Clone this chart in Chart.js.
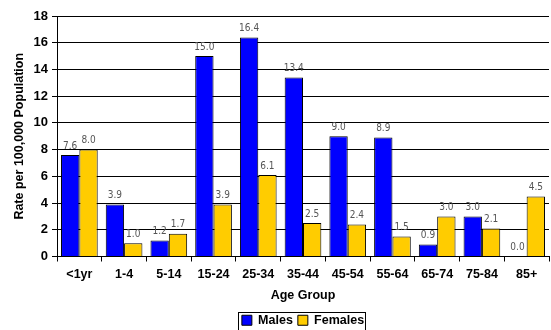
<!DOCTYPE html>
<html>
<head>
<meta charset="utf-8">
<script src="https://cdn.jsdelivr.net/npm/chart.js@4"></script>
<style>
    html, body { margin: 0; padding: 0; background: #ffffff; }
    #wrap { width: 551px; height: 330px; position: relative; }
</style>
</head>
<body>
<div id="wrap"><canvas id="rateChart"></canvas></div>
<script>
// Age groups and rates per 100,000
const ageGroups = ['<1yr', '1-4', '5-14', '15-24', '25-34', '35-44', '45-54', '55-64', '65-74', '75-84', '85+'];
const maleRates = [7.6, 3.9, 1.2, 15.0, 16.4, 13.4, 9.0, 8.9, 0.9, 3.0, 0.0];
const femaleRates = [8.0, 1.0, 1.7, 3.9, 6.1, 2.5, 2.4, 1.5, 3.0, 2.1, 4.5];
const yTicks = [0, 2, 4, 6, 8, 10, 12, 14, 16, 18];

const fontFamily = 'Arial, "Liberation Sans", sans-serif';
const boldFont = { family: fontFamily, size: 12.5, weight: 'bold' };

// Value labels above each bar
const valueLabels = {
    id: 'valueLabels',
    afterDatasetsDraw(chart) {
        const ctx = chart.ctx;
        ctx.save();
        ctx.fillStyle = '#555555';
        ctx.font = '10px "Liberation Sans Narrow", "Arial Narrow", "DejaVu Sans Condensed", sans-serif';
        ctx.textAlign = 'center';
        ctx.textBaseline = 'bottom';
        chart.data.datasets.forEach((ds, i) => {
            chart.getDatasetMeta(i).data.forEach((bar, j) => {
                ctx.fillText(ds.data[j].toFixed(1), bar.x, bar.y - 4);
            });
        });
        ctx.restore();
    }
};

// Legend centred under the plot area, with a border round it
const legendBox = {
    id: 'legendBox',
    afterLayout(chart) {
        const lg = chart.legend;
        if (!lg) return;
        const area = chart.chartArea;
        lg.left = area.left;
        lg.right = area.right;
        lg.width = area.right - area.left;
        const h = lg.height;
        lg.top = 309;
        lg.bottom = lg.top + h;
    },
    afterDraw(chart) {
        const lg = chart.legend;
        if (!lg) return;
        const hb = lg.legendHitBoxes;
        if (!hb.length) return;
        const ctx = chart.ctx;
        const x0 = hb[0].left - 4;
        const last = hb[hb.length - 1];
        const x1 = last.left + last.width + 1;
        const y0 = hb[0].top - 2;
        ctx.save();
        ctx.strokeStyle = '#000000';
        ctx.lineWidth = 1;
        ctx.strokeRect(Math.round(x0) + 0.5, Math.round(y0) + 0.5, Math.round(x1 - x0), 22);
        ctx.restore();
    }
};

new Chart(document.getElementById('rateChart'), {
    type: 'bar',
    data: {
        labels: ageGroups,
        datasets: [
            {
                label: 'Males',
                data: maleRates,
                backgroundColor: '#0000FF',
                borderColor: '#000000',
                borderWidth: 1,
                categoryPercentage: 0.82,
                barPercentage: 1.0
            },
            {
                label: 'Females',
                data: femaleRates,
                backgroundColor: '#FFCC00',
                borderColor: '#000000',
                borderWidth: 1,
                categoryPercentage: 0.82,
                barPercentage: 1.0
            }
        ]
    },
    options: {
        responsive: true,
        maintainAspectRatio: false,
        animation: false,
        layout: { padding: { top: 16, right: 2, left: 0, bottom: -4 } },
        plugins: {
            tooltip: { enabled: false },
            legend: {
                position: 'bottom',
                labels: {
                    color: '#000000',
                    font: boldFont,
                    boxWidth: 10,
                    boxHeight: 10,
                    padding: 5
                }
            }
        },
        scales: {
            x: {
                afterFit(axis) { axis.height = 50; },
                grid: {
                    drawOnChartArea: false,
                    drawTicks: true,
                    tickLength: 5,
                    offset: true,
                    color: '#000000'
                },
                border: { color: '#000000' },
                ticks: { color: '#000000', font: boldFont, padding: 6 },
                title: {
                    display: true,
                    text: 'Age Group',
                    color: '#000000',
                    font: boldFont,
                    padding: { top: 2, bottom: 3 }
                }
            },
            y: {
                min: 0,
                max: 18,
                afterFit(axis) { axis.width = 57; },
                afterBuildTicks(axis) {
                    axis.ticks = yTicks.map(v => ({ value: v }));
                },
                grid: { color: '#000000', tickLength: 5 },
                border: { color: '#000000' },
                ticks: { color: '#000000', font: { family: fontFamily, size: 13, weight: 'bold' }, padding: 4 },
                title: {
                    display: true,
                    text: 'Rate per 100,000 Population',
                    color: '#000000',
                    font: { family: fontFamily, size: 12.5, weight: 'bold' },
                    padding: { top: 12, bottom: 0 }
                }
            }
        }
    },
    plugins: [valueLabels, legendBox]
});
</script>
</body>
</html>
